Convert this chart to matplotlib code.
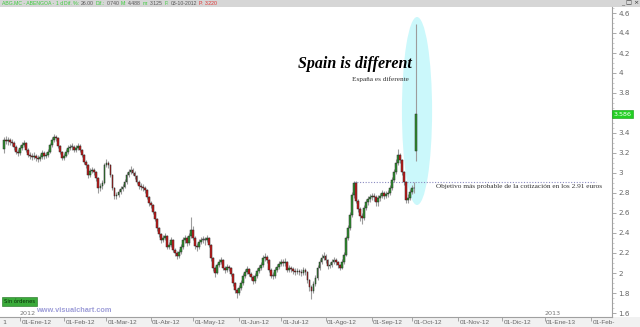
import numpy as np
import pandas as pd
import matplotlib
matplotlib.use("Agg")
import matplotlib.pyplot as plt
from matplotlib.patches import Ellipse, Rectangle
import matplotlib.transforms as mtransforms

# ABG.MC diario, 21-12-2011 .. 03-10-2012
closes = [
    3.33, 3.32, 3.33, 3.31, 3.30, 3.26, 3.21, 3.20,
    3.25, 3.28, 3.30, 3.23, 3.18, 3.17, 3.16, 3.17, 3.15, 3.14,
    3.16, 3.20, 3.17, 3.18, 3.21, 3.28, 3.33, 3.36, 3.35, 3.27,
    3.21, 3.15, 3.17, 3.21, 3.25, 3.26, 3.26, 3.23, 3.25, 3.27,
    3.23, 3.18, 3.11, 3.08, 2.98, 3.02, 3.03, 3.01, 2.95, 2.85,
    2.87, 2.90, 3.08, 3.10, 3.08, 2.98, 2.85, 2.77, 2.78, 2.81,
    2.84, 2.86, 2.91, 2.98, 3.01, 3.03, 3.00, 2.97, 2.91, 2.87,
    2.86, 2.85, 2.83, 2.76, 2.70, 2.68, 2.61, 2.54, 2.45, 2.39,
    2.33, 2.35, 2.37, 2.26, 2.28, 2.33, 2.23, 2.20, 2.17, 2.21,
    2.26, 2.33, 2.35, 2.30, 2.37, 2.43, 2.35, 2.27, 2.26, 2.31,
    2.33, 2.33, 2.33, 2.35, 2.28, 2.15, 2.05, 2.00, 2.08, 2.11,
    2.13, 2.05, 2.03, 2.06, 2.05, 1.99, 1.90, 1.83, 1.80, 1.85,
    1.90, 1.97, 2.01, 2.04, 1.99, 1.96, 1.92, 1.97, 2.02, 2.05,
    2.08, 2.15, 2.16, 2.13, 2.03, 1.97, 1.97, 2.03, 2.06, 2.09,
    2.11, 2.10, 2.11, 2.03, 2.05, 2.04, 2.02, 2.01, 2.02, 2.01,
    2.00, 2.03, 2.01, 1.93, 1.86, 1.82, 1.89, 1.95, 2.05, 2.11,
    2.15, 2.17, 2.13, 2.07, 2.08, 2.11, 2.13, 2.11, 2.08, 2.05,
    2.11, 2.18, 2.35, 2.45, 2.58, 2.78, 2.90, 2.72, 2.64, 2.57,
    2.55, 2.65, 2.71, 2.74, 2.76, 2.77, 2.76, 2.71, 2.75, 2.77,
    2.80, 2.77, 2.79, 2.80, 2.85, 2.93, 3.01, 3.10, 3.18, 3.13,
    3.01, 2.91, 2.73, 2.75, 2.81, 2.85, 2.846, 3.586,
]
highs = [
    3.36, 3.37, 3.36, 3.35, 3.34, 3.32, 3.28, 3.24,
    3.28, 3.31, 3.33, 3.31, 3.25, 3.21, 3.20, 3.21, 3.19, 3.18,
    3.19, 3.23, 3.22, 3.21, 3.24, 3.30, 3.36, 3.39, 3.38, 3.36,
    3.28, 3.22, 3.20, 3.24, 3.28, 3.29, 3.30, 3.28, 3.28, 3.30,
    3.29, 3.24, 3.19, 3.13, 3.09, 3.05, 3.06, 3.05, 3.02, 2.96,
    2.90, 2.93, 3.10, 3.14, 3.12, 3.09, 2.99, 2.86, 2.81, 2.84,
    2.87, 2.89, 2.94, 3.01, 3.04, 3.07, 3.05, 3.02, 2.98, 2.93,
    2.90, 2.89, 2.87, 2.84, 2.77, 2.72, 2.69, 2.62, 2.55, 2.46,
    2.40, 2.38, 2.40, 2.38, 2.31, 2.36, 2.34, 2.25, 2.22, 2.24,
    2.29, 2.36, 2.38, 2.37, 2.40, 2.56, 2.47, 2.37, 2.30, 2.34,
    2.36, 2.37, 2.36, 2.38, 2.36, 2.29, 2.16, 2.07, 2.10, 2.14,
    2.16, 2.14, 2.07, 2.09, 2.08, 2.06, 2.00, 1.91, 1.85, 1.88,
    1.93, 2.00, 2.04, 2.07, 2.05, 2.01, 1.98, 2.00, 2.05, 2.08,
    2.11, 2.18, 2.20, 2.18, 2.14, 2.05, 2.01, 2.06, 2.09, 2.12,
    2.14, 2.14, 2.15, 2.12, 2.08, 2.07, 2.06, 2.05, 2.05, 2.04,
    2.04, 2.06, 2.05, 2.02, 1.94, 1.88, 1.92, 1.98, 2.08, 2.14,
    2.19, 2.21, 2.19, 2.14, 2.11, 2.14, 2.16, 2.15, 2.12, 2.09,
    2.14, 2.21, 2.37, 2.48, 2.61, 2.81, 2.92, 2.92, 2.74, 2.66,
    2.60, 2.68, 2.74, 2.77, 2.79, 2.80, 2.80, 2.78, 2.78, 2.80,
    2.83, 2.82, 2.82, 2.83, 2.88, 2.96, 3.04, 3.14, 3.24, 3.20,
    3.14, 3.02, 2.92, 2.79, 2.84, 2.88, 2.91, 4.488,
]
lows = [
    3.20, 3.29, 3.28, 3.28, 3.27, 3.23, 3.19, 3.17,
    3.18, 3.23, 3.26, 3.21, 3.16, 3.14, 3.13, 3.14, 3.12, 3.11,
    3.12, 3.14, 3.14, 3.15, 3.16, 3.20, 3.26, 3.31, 3.32, 3.25,
    3.19, 3.13, 3.13, 3.16, 3.19, 3.23, 3.23, 3.21, 3.21, 3.23,
    3.21, 3.16, 3.09, 3.05, 2.95, 2.96, 3.00, 2.98, 2.92, 2.80,
    2.82, 2.84, 2.89, 3.06, 3.05, 2.96, 2.83, 2.74, 2.74, 2.76,
    2.79, 2.82, 2.85, 2.89, 2.96, 2.99, 2.98, 2.94, 2.89, 2.84,
    2.83, 2.82, 2.80, 2.74, 2.67, 2.65, 2.59, 2.52, 2.42, 2.36,
    2.30, 2.31, 2.33, 2.24, 2.24, 2.26, 2.21, 2.17, 2.14, 2.15,
    2.19, 2.24, 2.30, 2.27, 2.28, 2.35, 2.33, 2.24, 2.22, 2.24,
    2.29, 2.30, 2.28, 2.31, 2.26, 2.12, 2.02, 1.96, 1.99, 2.06,
    2.09, 2.03, 2.00, 2.01, 2.02, 1.97, 1.87, 1.80, 1.75, 1.78,
    1.83, 1.88, 1.95, 1.99, 1.97, 1.93, 1.89, 1.90, 1.95, 2.00,
    2.03, 2.06, 2.12, 2.10, 2.01, 1.95, 1.94, 1.95, 2.01, 2.04,
    2.07, 2.07, 2.07, 2.01, 2.01, 2.01, 1.99, 1.98, 1.99, 1.98,
    1.97, 1.98, 1.98, 1.90, 1.82, 1.74, 1.80, 1.87, 1.93, 2.03,
    2.09, 2.13, 2.10, 2.04, 2.05, 2.06, 2.09, 2.08, 2.05, 2.03,
    2.04, 2.09, 2.17, 2.33, 2.43, 2.56, 2.75, 2.70, 2.61, 2.52,
    2.49, 2.53, 2.63, 2.68, 2.71, 2.73, 2.72, 2.67, 2.67, 2.72,
    2.75, 2.74, 2.75, 2.76, 2.78, 2.83, 2.91, 2.99, 3.08, 3.10,
    2.98, 2.88, 2.70, 2.70, 2.73, 2.79, 2.80, 3.125,
]
first_open = 3.24
last_open = 3.22      # apertura del 03-10-2012 (gap)
objetivo = 2.91

month_labels = ["01-Ene-12", "01-Feb-12", "01-Mar-12", "01-Abr-12", "01-May-12",
                "01-Jun-12", "01-Jul-12", "01-Ago-12", "01-Sep-12", "01-Oct-12",
                "01-Nov-12", "01-Dic-12", "01-Ene-13", "01-Feb-"]
y_ticks = [1.6, 1.8, 2.0, 2.2, 2.4, 2.6, 2.8, 3.0, 3.2, 3.4, 3.6, 3.8, 4.0, 4.2, 4.4, 4.6]

# eje x = sesiones (dias laborables), 0 = 02-01-2012
dates = pd.bdate_range("2011-12-21", "2012-10-03")
all_days = pd.bdate_range("2011-12-21", "2013-02-28")
off = list(all_days).index(pd.Timestamp("2012-01-02"))
x = np.arange(len(dates)) - off
month_first = [all_days[all_days.to_period("M") == p][0] for p in pd.period_range("2012-01", "2013-02", freq="M")]
month_pos = [list(all_days).index(d) - off for d in month_first]

o = np.array([first_open] + closes[:-1])
o[-1] = last_open
c = np.array(closes)
h = np.maximum(np.array(highs), np.maximum(o, c))
l = np.minimum(np.array(lows), np.minimum(o, c))

fig = plt.figure(figsize=(6.4, 3.27), dpi=100)
W, H = 640, 327
ax = fig.add_axes([0, 10 / H, 612 / W, (317 - 7) / H])
ax.set_zorder(1)
ax.patch.set_alpha(0)

# cabecera gris y banda inferior
fig.patches.append(Rectangle((0, 1 - 7 / H), 1, 7 / H, transform=fig.transFigure,
                             facecolor="#d6d6d6", edgecolor="none", zorder=-1))
fig.patches.append(Rectangle((0, 0), 1, 10 / H, transform=fig.transFigure,
                             facecolor="#f1f1f1", edgecolor="none", zorder=-1))

head = [("ABG.MC - ABENGOA -", 2, "#3ccc3c"), ("1 d", 54, "#3ccc3c"), ("Dif. %:", 64, "#3ccc3c"),
        ("26.00", 80, "#555555"), ("Dif.:", 96, "#3ccc3c"), ("0.740", 105, "#555555"),
        ("M:", 121, "#3ccc3c"), ("4.488", 127, "#555555"), ("m:", 143, "#3ccc3c"),
        ("3.125", 149, "#555555"), ("F:", 164, "#3ccc3c"), ("03-10-2012", 169, "#555555"),
        ("P:", 198, "#e03030"), ("3.220", 204, "#e03030")]
renderer = fig.canvas.get_renderer()
prev_end = 0
for txt, px, col in head:
    start = max(px, prev_end + 1.5)
    t = fig.text(start / W, 1 - 3.8 / H, txt, color=col, fontsize=3.7, family="Liberation Sans",
                 va="center", ha="left")
    prev_end = t.get_window_extent(renderer).x1
fig.text(621 / W, 1 - 3.5 / H, "_ \u25a1 \u00d7", fontsize=4.5, color="#333333", va="center")

# zona de "Spain is different"
ax.add_patch(Ellipse((197.5, 3.62), 15, 1.88, facecolor="#cbf8fb", edgecolor="none", zorder=1))

# velas
up = c > o
dn = c < o
cols = np.where(up, "#2e932e", np.where(dn, "#c81818", "#9a9a9a"))
ax.vlines(x, l, h, color="#9c9c9c", linewidth=0.8, zorder=2)
body_b = np.minimum(o, c)
body_h = np.maximum(np.abs(c - o), 0.008)
ax.bar(x, body_h, bottom=body_b, width=0.9, color=cols, edgecolor="#2a2a2a",
       linewidth=0.35, zorder=3)

# objetivo
ax.hlines(objetivo, x[-32], 286.5, colors="#8a8ac0", linestyles=(0, (1, 1.5)), linewidth=0.8, zorder=2)
ax.text(207, objetivo - 0.05, "Objetivo m\u00e1s probable de la cotizaci\u00f3n en los 2.91 euros",
        fontsize=5.2, family="Liberation Serif", color="#333333", ha="left", va="center")

ax.text(195, 4.09, "Spain is different", fontsize=11.5, family="Liberation Serif",
        style="italic", weight="bold", ha="right", va="center", color="black", zorder=4)
ax.text(193.5, 3.94, "Espa\u00f1a es diferente", fontsize=5.2, family="Liberation Serif",
        ha="right", va="center", color="#333333", zorder=4)

ax.set_xlim(-9.95, 294.5)
ax.set_ylim(1.56, 4.66)

for s in ["left", "top"]:
    ax.spines[s].set_visible(False)
ax.spines["bottom"].set_color("#a0a0a0")
ax.spines["right"].set_color("#a0a0a0")
ax.spines["bottom"].set_linewidth(0.8)
ax.spines["right"].set_linewidth(0.8)

ax.yaxis.tick_right()
ax.set_yticks(y_ticks)
# la etiqueta 3.6 queda tapada por el precio actual
ax.set_yticklabels(["" if v == 3.6 else "%g" % v for v in y_ticks])
ax.set_yticks(np.arange(1.6, 4.66, 0.05), minor=True)
ax.tick_params(axis="y", which="major", length=3, width=0.5, color="#888888",
               labelsize=5.2, labelcolor="#666666", pad=1.5)
ax.tick_params(axis="y", which="minor", length=1.5, width=0.4, color="#aaaaaa")

ax.set_xticks(month_pos)
ax.set_xticklabels([])
ax.tick_params(axis="x", which="major", length=3, width=0.5, color="#888888", direction="out")
trans = mtransforms.blended_transform_factory(ax.transData, fig.transFigure)
for p, lab in zip(month_pos, month_labels):
    ax.text(p + 0.7, 4.3 / H, lab, transform=trans, fontsize=4.6, color="#666666",
            family="Liberation Sans", ha="left", va="center", clip_on=False)
fig.text(2 / W, 4.3 / H, "1", fontsize=4.6, color="#666666", va="center")

# etiquetas de año
ax.text(month_pos[0], 1.595, "2012", fontsize=4.6, color="#777777", ha="left", va="center")
ax.text(month_pos[12], 1.595, "2013", fontsize=4.6, color="#777777", ha="left", va="center")

# precio actual en el eje
ybl = mtransforms.blended_transform_factory(ax.transAxes, ax.transData)
ax.text(1.003, closes[-1], "3.586", transform=ybl, fontsize=4.6, color="white",
        ha="left", va="center", clip_on=False,
        bbox=dict(boxstyle="square,pad=0.25", facecolor="#22d022", edgecolor="#119911", linewidth=0.4))

ax.text(4 / 612, 1.715, "Sin \u00f3rdenes", transform=ybl, fontsize=3.8, color="#0a300a",
        ha="left", va="center",
        bbox=dict(boxstyle="square,pad=0.3", facecolor="#3aaa3a", edgecolor="#1d6e1d", linewidth=0.4))
fig.text(36 / W, 1 - 311 / H, "www.visualchart.com", fontsize=5.3, color="#9d9dd8",
         weight="bold", family="Liberation Sans", va="center")

fig.savefig("out.png", dpi=100)
